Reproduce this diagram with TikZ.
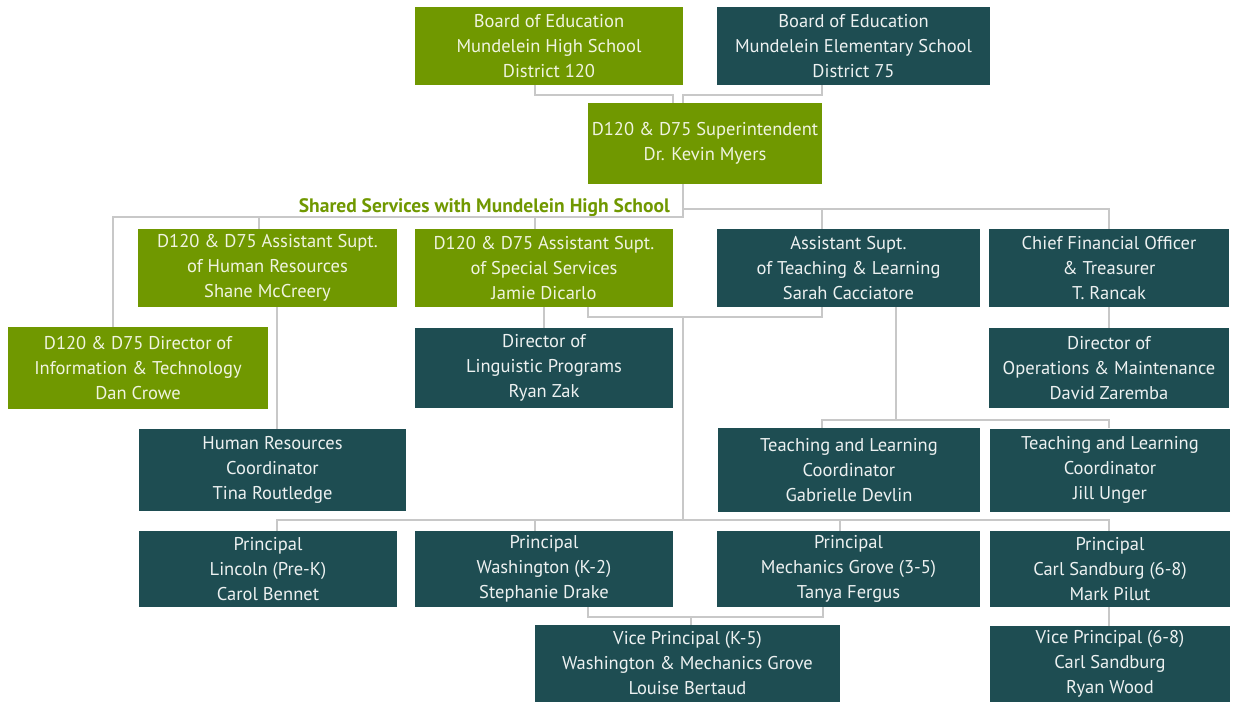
\documentclass[tikz,border=0pt]{standalone}
\usepackage{fontspec}
\setmainfont{PT Sans}
\definecolor{hsgreen}{RGB}{112,152,0}
\definecolor{esteal}{RGB}{30,77,82}
\definecolor{linkgray}{RGB}{200,200,200}
\definecolor{hstext}{RGB}{240,244,224}
\tikzset{
  unit/.style={inner sep=0pt, align=center, font=\fontsize{18.5}{25}\selectfont},
  hsbox/.style={unit, fill=hsgreen, text=hstext},
  esbox/.style={unit, fill=esteal, text=white!92!esteal},
  link/.style={draw=linkgray, line width=2pt},
}
\begin{document}
\begin{tikzpicture}[x=1pt,y=-1pt]
\useasboundingbox (0,0) rectangle (1235,702);
% Boards and superintendent
\node[hsbox, minimum width=268, minimum height=78] (bhs) at (549,46) {Board of Education\\Mundelein High School\\District 120};
\node[esbox, minimum width=273, minimum height=78] (bes) at (853.5,46) {Board of Education\\Mundelein Elementary School\\District 75};
\node[hsbox, minimum width=234, minimum height=81] (sup) at (705,143.5) {D120 \& D75 Superintendent\\Dr. Kevin Myers};
\node[anchor=base east, inner sep=0pt, font=\fontsize{19.5}{22}\selectfont\bfseries, text=hsgreen] (shared) at (670,212) {Shared Services with Mundelein High School};

% Assistant superintendents and CFO
\node[hsbox, minimum width=259, minimum height=78] (hr) at (267.5,268) {D120 \& D75 Assistant Supt.\\of Human Resources\\Shane McCreery};
\node[hsbox, minimum width=258, minimum height=78] (ss) at (544,268) {D120 \& D75 Assistant Supt.\\of Special Services\\Jamie Dicarlo};
\node[esbox, minimum width=263, minimum height=78] (tl) at (848.5,268) {Assistant Supt.\\of Teaching \& Learning\\Sarah Cacciatore};
\node[esbox, minimum width=240, minimum height=78] (cfo) at (1109,268) {Chief Financial Officer\\\& Treasurer\\T. Rancak};

% Directors
\node[hsbox, minimum width=260, minimum height=82] (it) at (138,368) {D120 \& D75 Director of\\Information \& Technology\\Dan Crowe};
\node[esbox, minimum width=258, minimum height=80] (ling) at (544,368) {Director of\\Linguistic Programs\\Ryan Zak};
\node[esbox, minimum width=240, minimum height=80] (ops) at (1109,368) {Director of\\Operations \& Maintenance\\David Zaremba};

% Coordinators
\node[esbox, minimum width=267, minimum height=82] (hrc) at (272.5,470) {Human Resources\\Coordinator\\Tina Routledge};
\node[esbox, minimum width=262, minimum height=84] (tlc1) at (849,470) {Teaching and Learning\\Coordinator\\Gabrielle Devlin};
\node[esbox, minimum width=240, minimum height=83] (tlc2) at (1110,470) {Teaching and Learning\\Coordinator\\Jill Unger};

% Principals
\node[esbox, minimum width=258, minimum height=76] (p1) at (268,569) {Principal\\Lincoln (Pre-K)\\Carol Bennet};
\node[esbox, minimum width=258, minimum height=76] (p2) at (544,569) {Principal\\Washington (K-2)\\Stephanie Drake};
\node[esbox, minimum width=263, minimum height=76] (p3) at (848.5,569) {Principal\\Mechanics Grove (3-5)\\Tanya Fergus};
\node[esbox, minimum width=240, minimum height=76] (p4) at (1110,569) {Principal\\Carl Sandburg (6-8)\\Mark Pilut};

% Vice principals
\node[esbox, minimum width=305, minimum height=77] (vp1) at (687.5,663.5) {Vice Principal (K-5)\\Washington \& Mechanics Grove\\Louise Bertaud};
\node[esbox, minimum width=240, minimum height=76] (vp2) at (1110,664) {Vice Principal (6-8)\\Carl Sandburg\\Ryan Wood};

% Connectors
\draw[link] ([xshift=-14]bhs.south) -- ++(0,10) -| ([xshift=-32]sup.north);
\draw[link] ([xshift=-31.5]bes.south) -- ++(0,10) -| ([xshift=-22]sup.north);
\draw[link] ([xshift=-22]sup.south) -- ++(0,33) -| ([xshift=-25]it.north);
\draw[link] ([xshift=-22]sup.south) ++(0,25) -| (cfo.north);
\draw[link] ([xshift=-26.5]tl.north) -- ++(0,-20);
\foreach \n/\dx in {hr/-8.5, ss/-9} {
  \draw[link] ([xshift=\dx]\n.north) -- ++(0,-12);
}
\draw[link] ([xshift=9.5]hr.south) -- ([xshift=4.5]hrc.north);
\draw[link] (ss.south) -- (ling.north);
\draw[link] (cfo.south) -- (ops.north);
\draw[link] ([xshift=44]ss.south) -- ++(0,10) -| ([xshift=-26.5]tl.south);
\coordinate (mid) at (683,317);
\coordinate (pbus) at (683,520);
\draw[link] (mid) -- (pbus);
\draw[link] ([xshift=9]p1.north) |- (pbus);
\draw[link] ([xshift=-1]p4.north) |- (pbus);
\foreach \n/\dx in {p2/-9, p3/-8.5} {
  \draw[link] ([xshift=\dx]\n.north) -- ++(0,-11);
}
\draw[link] ([xshift=47.5]tl.south) -- ++(0,113);
\draw[link] ([xshift=-27]tlc1.north) -- ++(0,-8) -| ([xshift=-1]tlc2.north);
\draw[link] ([xshift=44]p2.south) -- ++(0,10) -| ([xshift=-25.5]p3.south);
\draw[link] ([xshift=3.5]vp1.north) -- ++(0,-9);
\draw[link] ([xshift=-1]p4.south) -- ([xshift=-1]vp2.north);
\end{tikzpicture}
\end{document}
